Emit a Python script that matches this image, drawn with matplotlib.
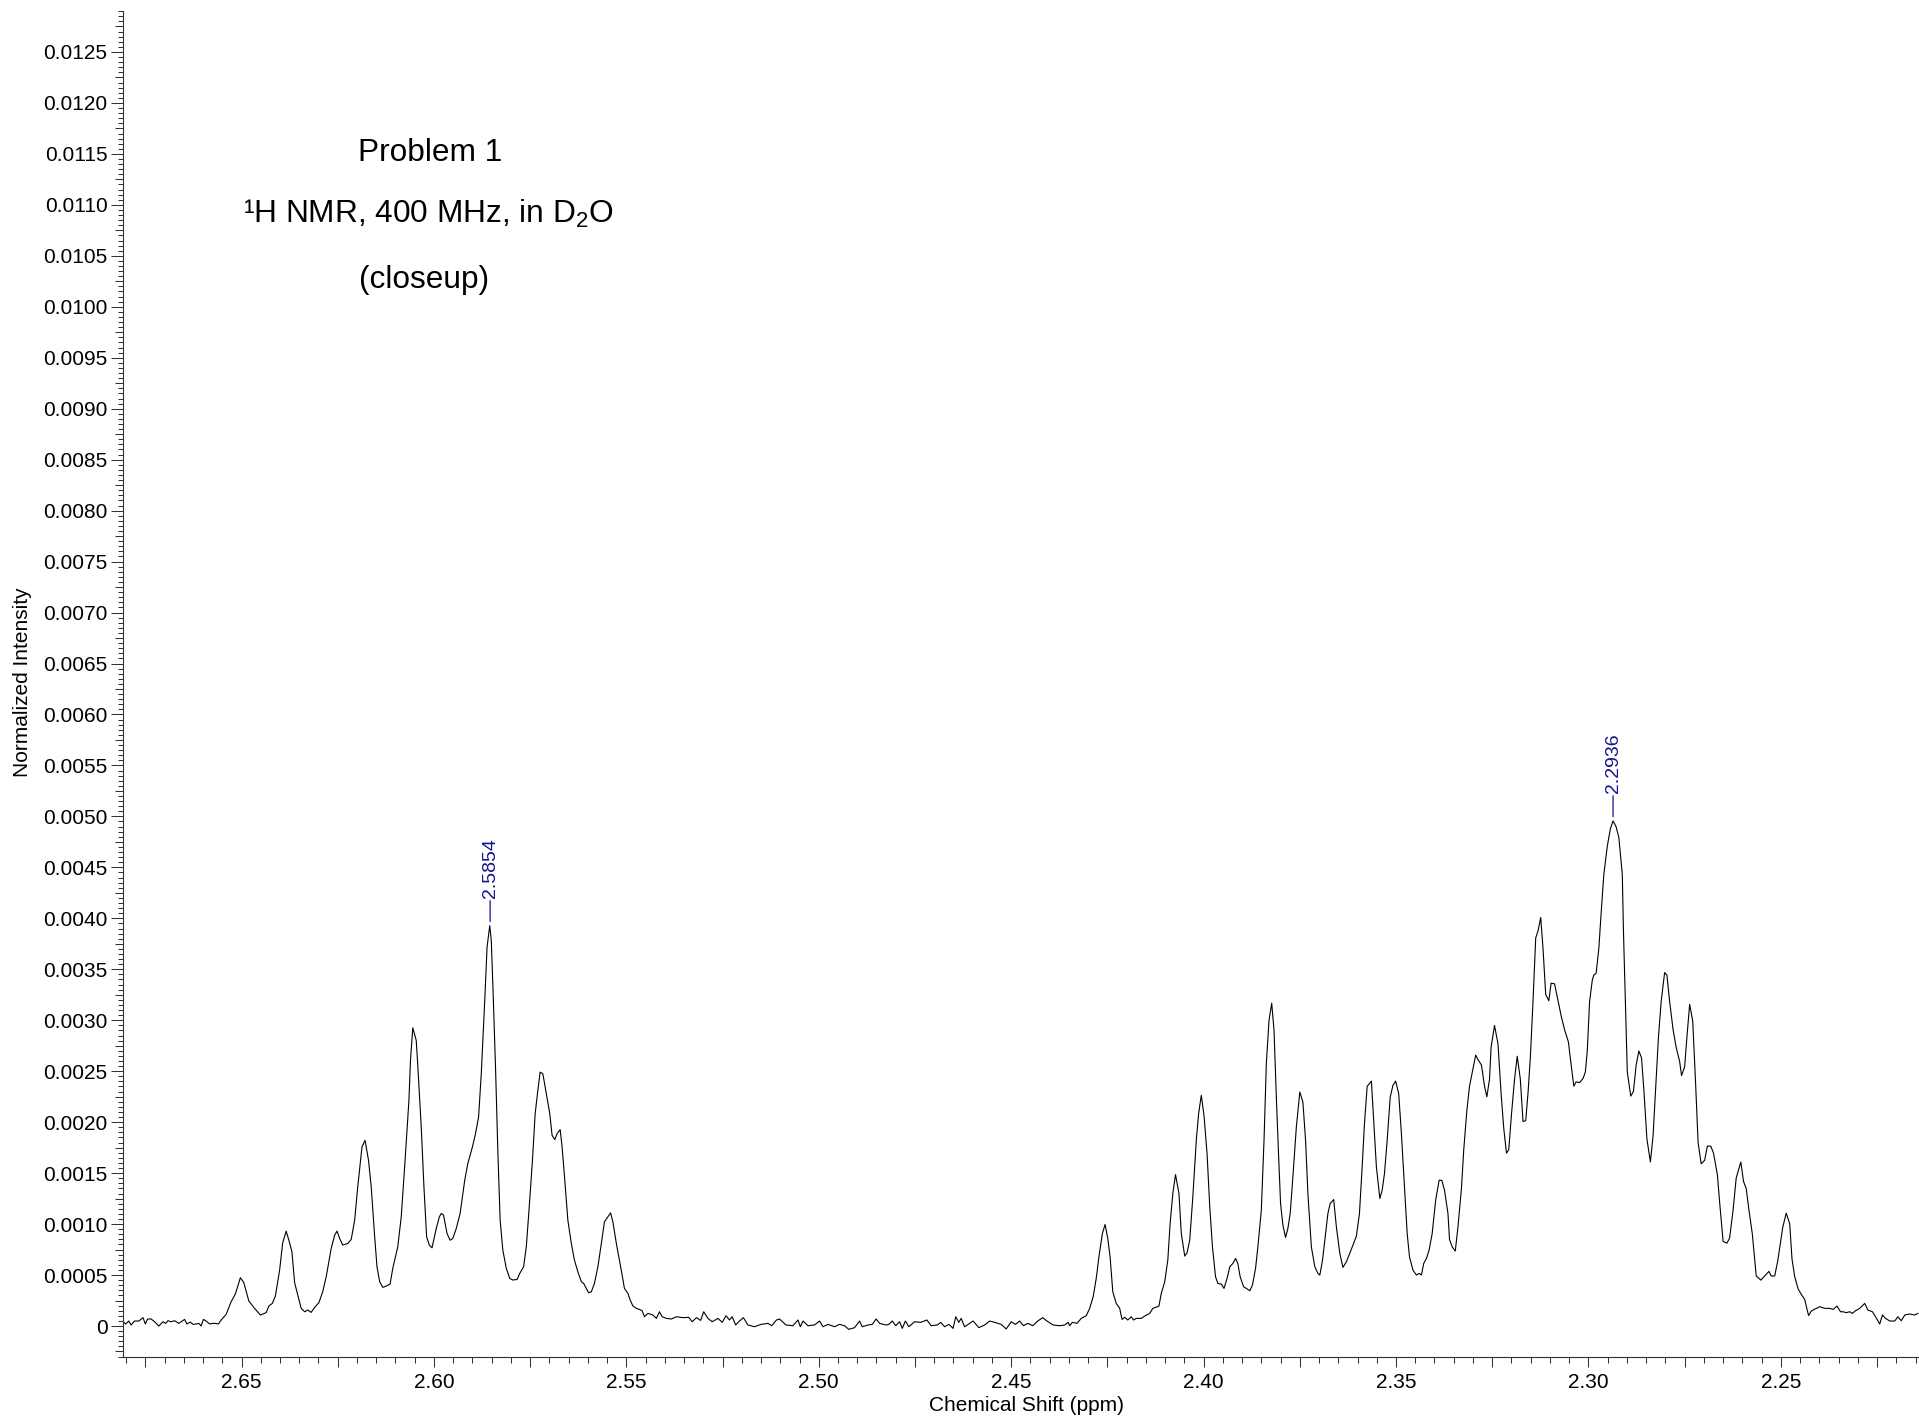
"""Problem 1 - 1H NMR closeup (400 MHz, D2O), 2.68-2.21 ppm."""

import numpy as np
import matplotlib.pyplot as plt
from matplotlib.ticker import FixedLocator, MultipleLocator, FuncFormatter

plt.rcParams["font.family"] = ["Liberation Sans", "DejaVu Sans"]
plt.rcParams["mathtext.fontset"] = "custom"
plt.rcParams["mathtext.rm"] = "Liberation Sans"
plt.rcParams["mathtext.it"] = "Liberation Sans:italic"

# Spectrum: (chemical shift in ppm, intensity x 1e-4)
baseline_left = [
    (2.6808, 0.42), (2.6801, 0.20), (2.6793, 0.49), (2.6787, 0.10), (2.6778, 0.49),
    (2.6767, 0.49), (2.6756, 0.82), (2.6750, 0.20), (2.6744, 0.69), (2.6735, 0.69),
    (2.6726, 0.42), (2.6715, 0.00), (2.6704, 0.42), (2.6697, 0.26), (2.6691, 0.52),
    (2.6683, 0.42), (2.6674, 0.52), (2.6663, 0.26), (2.6648, 0.65), (2.6642, 0.20),
    (2.6633, 0.39), (2.6626, 0.16), (2.6618, 0.20), (2.6611, 0.26), (2.6605, 0.00),
    (2.6599, 0.65), (2.6592, 0.49), (2.6583, 0.20), (2.6575, 0.26), (2.6568, 0.26),
    (2.6560, 0.20), (2.6553, 0.59),
]

multiplet_a = [
    (2.6540, 1.14), (2.6527, 2.38), (2.6516, 3.14), (2.6503, 4.74), (2.6494, 4.25),
    (2.6481, 2.45), (2.6466, 1.73), (2.6451, 1.08), (2.6436, 1.31), (2.6429, 1.96),
    (2.6420, 2.22), (2.6412, 2.94), (2.6401, 5.49), (2.6393, 8.16), (2.6384, 9.31),
    (2.6377, 8.42), (2.6369, 7.28), (2.6362, 4.25), (2.6345, 1.73), (2.6336, 1.40),
    (2.6328, 1.57), (2.6319, 1.34), (2.6310, 1.83), (2.6299, 2.29), (2.6289, 3.36),
    (2.6280, 4.83), (2.6267, 7.61), (2.6258, 8.91), (2.6252, 9.31), (2.6245, 8.59),
    (2.6237, 7.94), (2.6224, 8.10), (2.6215, 8.49), (2.6206, 10.39), (2.6198, 13.65),
    (2.6187, 17.57), (2.6179, 18.22), (2.6170, 16.26), (2.6163, 13.65), (2.6154, 8.75),
    (2.6148, 5.81), (2.6141, 4.34), (2.6133, 3.79), (2.6124, 3.92), (2.6114, 4.11),
    (2.6107, 5.65), (2.6094, 7.77), (2.6085, 10.71), (2.6075, 16.26), (2.6065, 22.14),
    (2.6061, 26.06), (2.6055, 29.26), (2.6046, 28.02), (2.6042, 25.57), (2.6033, 19.53),
    (2.6026, 13.65), (2.6019, 8.75), (2.6012, 7.94), (2.6005, 7.67), (2.5994, 9.57),
    (2.5986, 10.71), (2.5981, 11.04), (2.5975, 10.87), (2.5966, 9.08), (2.5958, 8.42),
    (2.5951, 8.59), (2.5942, 9.57), (2.5932, 11.04), (2.5920, 14.30), (2.5912, 15.94),
    (2.5900, 17.57), (2.5892, 18.87), (2.5884, 20.51), (2.5877, 24.75), (2.5868, 31.94),
    (2.5862, 37.16), (2.5855, 39.28), (2.5851, 37.81), (2.5847, 33.57), (2.5840, 25.40),
    (2.5834, 17.24), (2.5828, 10.38), (2.5821, 7.45), (2.5812, 5.65), (2.5803, 4.67),
    (2.5795, 4.51), (2.5784, 4.57), (2.5777, 5.16), (2.5767, 5.81), (2.5760, 7.77),
    (2.5753, 11.36), (2.5744, 16.26), (2.5737, 20.83), (2.5730, 23.12), (2.5724, 24.91),
    (2.5717, 24.75), (2.5708, 22.79), (2.5699, 20.83), (2.5693, 18.71), (2.5686, 18.29),
    (2.5680, 18.87), (2.5672, 19.27), (2.5667, 17.57), (2.5660, 14.30), (2.5652, 10.38),
    (2.5643, 8.10), (2.5635, 6.47), (2.5626, 5.32), (2.5617, 4.34), (2.5611, 4.18),
    (2.5604, 3.69), (2.5598, 3.26), (2.5591, 3.36), (2.5583, 4.18), (2.5574, 5.81),
    (2.5565, 8.10), (2.5557, 10.22), (2.5548, 10.71), (2.5541, 11.10), (2.5535, 10.22),
    (2.5526, 8.10), (2.5518, 6.47), (2.5511, 5.00), (2.5505, 3.69), (2.5496, 3.20),
    (2.5490, 2.55), (2.5483, 1.96), (2.5474, 1.73), (2.5466, 1.63), (2.5459, 1.50),
    (2.5453, 0.91), (2.5444, 1.24), (2.5431, 1.08), (2.5422, 0.75), (2.5414, 1.40),
]

baseline_mid = [
    (2.5407, 0.91), (2.5396, 0.75), (2.5383, 0.69), (2.5370, 0.91), (2.5353, 0.82),
    (2.5338, 0.85), (2.5329, 0.42), (2.5318, 0.82), (2.5307, 0.55), (2.5299, 1.40),
    (2.5288, 0.75), (2.5277, 0.42), (2.5262, 0.75), (2.5251, 0.36), (2.5241, 1.01),
    (2.5232, 0.59), (2.5225, 0.91), (2.5216, 0.10), (2.5206, 0.49), (2.5196, 0.82),
    (2.5184, 0.10), (2.5167, -0.07), (2.5150, 0.16), (2.5132, 0.26), (2.5122, 0.03),
    (2.5110, 0.59), (2.5102, 0.69), (2.5085, 0.10), (2.5067, 0.03), (2.5054, 0.59),
    (2.5048, -0.07), (2.5041, 0.49), (2.5028, 0.03), (2.5011, 0.10), (2.4998, 0.49),
    (2.4989, -0.07), (2.4976, 0.16), (2.4959, -0.07), (2.4946, 0.16), (2.4933, 0.03),
    (2.4922, -0.33), (2.4907, -0.16), (2.4894, 0.49), (2.4887, -0.07), (2.4872, 0.10),
    (2.4861, 0.16), (2.4851, 0.69), (2.4842, 0.26), (2.4825, 0.10), (2.4818, 0.16),
    (2.4809, 0.49), (2.4800, 0.03), (2.4790, 0.42), (2.4783, -0.23), (2.4775, 0.49),
    (2.4766, -0.07), (2.4751, 0.42), (2.4735, 0.36), (2.4719, 0.59), (2.4708, 0.03),
    (2.4692, 0.10), (2.4683, 0.36), (2.4673, -0.07), (2.4662, 0.16), (2.4651, -0.23),
    (2.4644, 0.91), (2.4636, 0.36), (2.4630, 0.75), (2.4621, -0.07), (2.4608, 0.26),
    (2.4599, 0.49), (2.4584, -0.16), (2.4569, 0.10), (2.4556, 0.49), (2.4543, 0.36),
    (2.4526, 0.16), (2.4513, -0.29), (2.4500, 0.42), (2.4489, 0.16), (2.4478, 0.49),
    (2.4468, 0.03), (2.4457, 0.26), (2.4444, 0.03), (2.4431, 0.49), (2.4418, 0.82),
    (2.4407, 0.49), (2.4391, 0.10), (2.4374, 0.03), (2.4361, 0.10), (2.4352, 0.36),
    (2.4348, 0.03), (2.4341, 0.36), (2.4329, 0.26), (2.4318, 0.75), (2.4305, 1.01),
    (2.4296, 1.73), (2.4287, 2.87),
]

multiplet_b = [
    (2.4279, 4.67), (2.4272, 6.79), (2.4263, 9.08), (2.4256, 9.96), (2.4249, 8.59),
    (2.4243, 6.79), (2.4236, 3.36), (2.4227, 2.22), (2.4218, 1.73), (2.4212, 0.65),
    (2.4205, 0.85), (2.4197, 0.59), (2.4188, 0.91), (2.4182, 0.59), (2.4175, 0.75),
    (2.4162, 0.75), (2.4153, 0.98), (2.4140, 1.24), (2.4132, 1.73), (2.4116, 1.96),
    (2.4110, 3.20), (2.4101, 4.34), (2.4093, 6.47), (2.4087, 10.06), (2.4080, 12.99),
    (2.4073, 14.86), (2.4064, 12.99), (2.4058, 9.08), (2.4049, 6.86), (2.4043, 7.18),
    (2.4036, 8.43), (2.4028, 12.67), (2.4019, 18.22), (2.4013, 20.83), (2.4006, 22.63),
    (2.3999, 20.67), (2.3991, 16.91), (2.3984, 11.69), (2.3977, 7.77), (2.3969, 4.83),
    (2.3963, 4.18), (2.3954, 4.11), (2.3947, 3.69), (2.3939, 4.67), (2.3932, 5.81),
    (2.3924, 6.14), (2.3917, 6.63), (2.3911, 6.14), (2.3905, 4.83), (2.3896, 3.85),
    (2.3889, 3.69), (2.3880, 3.46), (2.3873, 4.02), (2.3865, 5.65), (2.3859, 7.77),
    (2.3850, 11.36), (2.3843, 18.22), (2.3837, 25.73), (2.3830, 29.98), (2.3823, 31.67),
    (2.3817, 28.99), (2.3811, 22.47), (2.3805, 16.59), (2.3800, 12.02), (2.3794, 9.90),
    (2.3787, 8.69), (2.3781, 9.57), (2.3775, 11.04), (2.3768, 14.63), (2.3759, 19.53),
    (2.3750, 22.96), (2.3742, 21.98), (2.3735, 18.22), (2.3729, 12.99), (2.3720, 7.77),
    (2.3711, 5.81), (2.3703, 5.16), (2.3698, 5.00), (2.3691, 6.47), (2.3684, 8.75),
    (2.3677, 11.04), (2.3671, 12.02), (2.3662, 12.41), (2.3655, 9.73), (2.3646, 7.12),
    (2.3638, 5.75), (2.3629, 6.30), (2.3621, 7.05), (2.3612, 7.93), (2.3603, 8.82),
    (2.3595, 11.04), (2.3588, 15.61), (2.3582, 19.85), (2.3575, 23.51), (2.3564, 24.03),
    (2.3558, 20.18), (2.3551, 15.61), (2.3542, 12.51), (2.3536, 13.32), (2.3530, 14.96),
    (2.3523, 18.22), (2.3515, 22.47), (2.3508, 23.61), (2.3501, 24.03), (2.3493, 22.79),
    (2.3486, 18.87), (2.3479, 14.30), (2.3471, 9.08), (2.3465, 6.79), (2.3456, 5.49),
    (2.3447, 5.00), (2.3440, 5.16), (2.3434, 5.00), (2.3428, 6.14), (2.3421, 6.63),
    (2.3414, 7.45), (2.3406, 9.08), (2.3397, 12.34), (2.3388, 14.30), (2.3381, 14.30),
    (2.3374, 13.32), (2.3365, 11.04), (2.3361, 8.49), (2.3354, 7.77), (2.3346, 7.35),
    (2.3339, 9.73), (2.3335, 11.36), (2.3330, 13.49), (2.3324, 17.30), (2.3316, 21.11),
    (2.3309, 23.53), (2.3300, 25.26), (2.3293, 26.58), (2.3287, 26.13), (2.3278, 25.61),
    (2.3270, 23.53), (2.3264, 22.49), (2.3257, 24.22), (2.3253, 27.34), (2.3244, 29.48),
    (2.3235, 27.68), (2.3227, 22.84), (2.3220, 19.38), (2.3213, 16.96), (2.3207, 17.30),
    (2.3200, 20.76), (2.3192, 24.22), (2.3185, 26.47), (2.3177, 24.22), (2.3170, 20.07),
    (2.3163, 20.14), (2.3157, 22.84), (2.3151, 26.30), (2.3144, 31.84), (2.3137, 38.07),
    (2.3131, 38.76), (2.3124, 40.08), (2.3118, 37.03), (2.3111, 32.53), (2.3103, 31.91),
    (2.3097, 33.64), (2.3088, 33.57), (2.3079, 31.91), (2.3071, 30.45), (2.3062, 29.07),
    (2.3052, 27.86), (2.3046, 25.95), (2.3038, 23.53), (2.3032, 23.95), (2.3023, 23.88),
    (2.3014, 24.29), (2.3008, 24.92), (2.3003, 26.99), (2.2997, 31.84), (2.2990, 33.92),
    (2.2986, 34.43), (2.2980, 34.61), (2.2973, 37.03), (2.2967, 40.49), (2.2960, 44.30),
    (2.2951, 47.07), (2.2943, 48.80), (2.2936, 49.56), (2.2928, 48.97), (2.2921, 47.93),
    (2.2912, 44.30), (2.2909, 38.76), (2.2904, 31.84), (2.2899, 24.92), (2.2890, 22.56),
    (2.2883, 23.01), (2.2876, 25.61), (2.2869, 26.99), (2.2862, 26.30), (2.2856, 23.18),
    (2.2848, 18.34), (2.2839, 16.09), (2.2832, 18.69), (2.2825, 23.53), (2.2818, 28.38),
    (2.2811, 31.84), (2.2802, 34.68), (2.2796, 34.43), (2.2789, 31.84), (2.2780, 29.07),
    (2.2772, 27.34), (2.2763, 25.95), (2.2758, 24.57), (2.2750, 25.43), (2.2744, 28.38),
    (2.2737, 31.56), (2.2729, 29.93), (2.2722, 24.22), (2.2715, 17.99), (2.2707, 15.92),
    (2.2698, 16.26), (2.2691, 17.65), (2.2682, 17.65), (2.2675, 16.96), (2.2665, 14.88),
    (2.2659, 12.11), (2.2650, 8.30), (2.2640, 8.13), (2.2633, 8.65), (2.2624, 11.42),
    (2.2616, 14.53), (2.2604, 16.09), (2.2597, 14.19), (2.2590, 13.49), (2.2583, 11.42),
    (2.2574, 8.99), (2.2564, 4.91), (2.2552, 4.50), (2.2542, 4.91), (2.2531, 5.36),
    (2.2525, 4.91), (2.2516, 4.91), (2.2508, 6.40), (2.2495, 9.69), (2.2486, 11.07),
    (2.2477, 10.03), (2.2471, 6.57), (2.2464, 4.84), (2.2455, 3.63), (2.2447, 3.11),
    (2.2438, 2.59), (2.2428, 1.03), (2.2421, 1.45), (2.2412, 1.66), (2.2404, 1.79),
    (2.2399, 1.90),
]

baseline_right = [
    (2.2386, 1.73), (2.2373, 1.73), (2.2364, 1.63), (2.2354, 1.96), (2.2345, 1.40),
    (2.2338, 1.40), (2.2330, 1.31), (2.2321, 1.40), (2.2314, 1.24), (2.2306, 1.50),
    (2.2295, 1.73), (2.2282, 2.22), (2.2274, 1.57), (2.2262, 1.40), (2.2254, 0.91),
    (2.2243, 0.20), (2.2236, 1.08), (2.2228, 0.75), (2.2217, 0.49), (2.2204, 0.49),
    (2.2196, 0.91), (2.2187, 0.52), (2.2178, 1.08), (2.2165, 1.18), (2.2152, 1.08),
    (2.2144, 1.24),
]

peak_ppm = [2.5854, 2.2936]
peak_labels = ["2.5854", "2.2936"]

spectrum = np.array(baseline_left + multiplet_a + baseline_mid + multiplet_b + baseline_right)
shift = spectrum[:, 0]
intensity = spectrum[:, 1] * 1e-4

W, H = 1919, 1420
fig = plt.figure(figsize=(W / 100, H / 100), dpi=100)
ax = fig.add_axes([123 / W, 1 - 1357 / H, 1 - 123 / W, (1357 - 11) / H])

ax.plot(shift, intensity, color="black", lw=0.8)

ax.set_xlim(2.6808, 2.2141)
ax.set_ylim(-0.000304, 0.012902)

for side in ("top", "right"):
    ax.spines[side].set_visible(False)
for side in ("left", "bottom"):
    ax.spines[side].set_color("#333333")
    ax.spines[side].set_linewidth(0.8)

# x ticks: long ticks every 0.025, labels every 0.05, short ticks every 0.005
xt = np.round(np.arange(2.225, 2.6751, 0.025), 3)
ax.xaxis.set_major_locator(FixedLocator(xt))
ax.xaxis.set_minor_locator(MultipleLocator(0.005))
ax.xaxis.set_major_formatter(FuncFormatter(
    lambda v, pos: f"{v:.2f}" if abs(v / 0.05 - round(v / 0.05)) < 1e-6 else ""))

# y ticks: labelled every 0.0005, medium every 0.00025, short every 0.00005
yt = np.arange(-1, 52) * 0.00025
ax.yaxis.set_major_locator(FixedLocator(yt))
ax.yaxis.set_minor_locator(MultipleLocator(0.00005))


def yfmt(v, pos):
    k = v / 0.0005
    if abs(k - round(k)) > 1e-6 or v < -1e-9:
        return ""
    return "0" if abs(v) < 1e-9 else f"{v:.4f}"


ax.yaxis.set_major_formatter(FuncFormatter(yfmt))

ax.tick_params(axis="both", which="both", direction="out", color="#333333",
               width=0.75, labelsize=15, labelcolor="black")
ax.tick_params(axis="x", which="major", length=7.2, pad=4.3)
ax.tick_params(axis="x", which="minor", length=4.3)
ax.tick_params(axis="y", which="major", length=8.6, pad=2.5)
ax.tick_params(axis="y", which="minor", length=3.6)
for i, t in enumerate(ax.yaxis.get_major_ticks(len(yt))):
    if i % 2 == 0:
        t.tick1line.set_markersize(5.8)

ax.set_xlabel("Chemical Shift (ppm)", fontsize=15)
ax.xaxis.label.set_va("center")
ax.xaxis.set_label_coords(0.5028, -0.0357)
ax.set_ylabel("Normalized Intensity", fontsize=15)
ax.yaxis.label.set_va("center")
ax.yaxis.set_label_coords(-0.0562, 0.5015)

# peak picks
label_color = "#14148c"
for p, lab in zip(peak_ppm, peak_labels):
    i = np.argmin(np.abs(shift - p))
    ax.annotate(lab, xy=(p, intensity[i]), xytext=(0, 20), textcoords="offset points",
                rotation=90, ha="center", va="bottom", fontsize=14, color=label_color,
                arrowprops=dict(arrowstyle="-", color=label_color, lw=0.9,
                                shrinkA=0, shrinkB=3))

# title block
fig.text(430 / W, 1 - 161 / H, "Problem 1", ha="center", va="baseline", fontsize=22.8)
fig.text(428 / W, 1 - 223 / H, "\u00b9H NMR, 400 MHz, in D$\\mathregular{_2}$O",
         ha="center", va="baseline", fontsize=22.8)
fig.text(424 / W, 1 - 288 / H, "(closeup)", ha="center", va="baseline", fontsize=22.8)

fig.savefig("out.png", dpi=100)
